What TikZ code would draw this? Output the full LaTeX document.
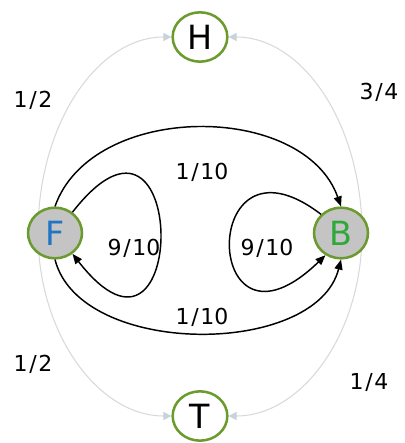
\documentclass[tikz,border=0pt]{standalone}
\usepackage{fontspec}
\setmainfont{DejaVu Sans}
\usetikzlibrary{arrows.meta,shapes.geometric,backgrounds}

\definecolor{leaf}{HTML}{6B9B2E}
\definecolor{stone}{HTML}{C4C4C4}
\definecolor{fblue}{HTML}{1F74C4}
\definecolor{bgreen}{HTML}{2FA83A}
\definecolor{mist}{HTML}{D9D9D9}
\definecolor{misttip}{HTML}{C9D1DA}

\newcommand{\frc}[2]{#1\kern1.2pt/\kern1.2pt#2}

\begin{document}
\begin{tikzpicture}[x=0.75pt,y=0.75pt,
  state/.style={ellipse, draw=leaf, line width=1.9pt, inner sep=0pt,
    font=\fontsize{25}{25}\selectfont},
  outcome/.style={state, fill=white, minimum width=41pt, minimum height=37pt},
  coin/.style={state, fill=stone, minimum width=40.5pt, minimum height=38pt},
  move/.style={line width=1.1pt, -{Triangle[length=7.5pt,width=6pt]}},
  fade/.style={draw=mist, line width=0.8pt,
    -{Triangle[length=6pt,width=6pt,color=misttip]}},
  prob/.style={font=\fontsize{16.5}{16.5}\selectfont}]

% cadre (pixels de l'image)
\useasboundingbox (0,0) rectangle (404,443);

% --------- ETATS ----------
\node[outcome] (H) at (200,406) {H};
\node[outcome] (T) at (200,27) {T};
\node[coin, text=fblue] (F) at (55,210) {F};
\node[coin, text=bgreen] (B) at (341,210) {B};

% Arcs gris vers H et T (derriere les etats)
\begin{scope}[on background layer]
\draw[fade] ([xshift=-12.75pt]F.center) .. controls +(0,109) and +(-74,0) .. (H.west);
\draw[fade] ([xshift=15.75pt]B.center) .. controls +(0,109) and +(74,0) .. (H.east);
\draw[fade] ([xshift=-12.75pt]F.center) .. controls +(0,-101) and +(-73,0) .. (T.west);
\draw[fade] ([xshift=15.75pt]B.center) .. controls +(0,-101) and +(73,0) .. (T.east);
\end{scope}

% F -> B (haut et bas)
\draw[move] (F.north) .. controls +(37,105) and +(-37,105) .. (B.north);
\draw[move] (F.south) .. controls +(25,-98) and +(-25,-98) .. (B.south);

% Boucles
\draw[move] (F.50) .. controls +(117,150) and +(117,-150) .. (F.-50);
\draw[move] (B.137) .. controls +(-124,95) and +(-124,-120) .. (B.-125);

% Probabilites
\node[prob] (pFH) at (33,343) {\frc{1}{2}};
\node[prob] (pBH) at (379,351) {\frc{3}{4}};
\node[prob] (pFT) at (33,79) {\frc{1}{2}};
\node[prob] (pBT) at (369,60) {\frc{1}{4}};
\node[prob] (pFBup) at (202,271) {\frc{1}{10}};
\node[prob] (pFBdown) at (202,126) {\frc{1}{10}};
\node[prob] (pFF) at (134,195) {\frc{9}{10}};
\node[prob] (pBB) at (267,195) {\frc{9}{10}};

\end{tikzpicture}
\end{document}
